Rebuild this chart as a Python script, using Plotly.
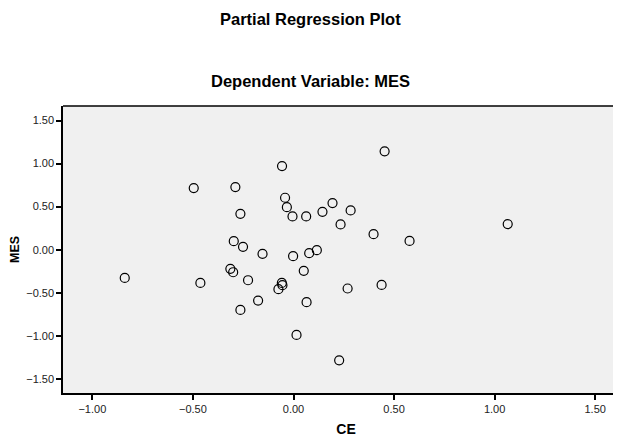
import plotly.graph_objects as go

ce = [-0.057, -0.496, -0.289, -0.042, -0.033, -0.264, -0.005, 0.063, 0.144, -0.297,
      -0.251, -0.154, -0.002, 0.078, 0.116, -0.314, -0.300, -0.839, 0.051, -0.226,
      -0.463, -0.058, -0.055, -0.075, -0.176, 0.065, -0.264, 0.015, 0.453, 0.194,
      0.284, 0.234, 1.065, 0.398, 0.577, 0.269, 0.438, 0.227]
mes = [0.971, 0.715, 0.727, 0.603, 0.494, 0.416, 0.386, 0.386, 0.440, 0.099,
       0.033, -0.049, -0.076, -0.041, -0.006, -0.223, -0.262, -0.328, -0.246, -0.355,
       -0.386, -0.386, -0.413, -0.459, -0.591, -0.610, -0.700, -0.990, 1.142, 0.541,
       0.456, 0.293, 0.297, 0.180, 0.102, -0.451, -0.409, -1.285]
x_ticks = [-1.0, -0.5, 0.0, 0.5, 1.0, 1.5]
y_ticks = [-1.5, -1.0, -0.5, 0.0, 0.5, 1.0, 1.5]

fig = go.Figure(go.Scatter(
    x=ce, y=mes, mode="markers",
    marker=dict(symbol="circle-open", size=9, color="black", line=dict(width=1.2)),
    showlegend=False, hoverinfo="x+y"))

axis_common = dict(showgrid=False, zeroline=False, showline=True, linecolor="black",
                   linewidth=1.5, ticks="outside", ticklen=5, tickwidth=1.5,
                   tickcolor="black", tickformat=".2f", automargin=False,
                   tickfont=dict(family="Liberation Sans, Arial", size=11, color="#222"))

# The page body has an 8px default margin, so the figure is drawn offset by 8px.
fig.update_layout(
    width=621, height=444,
    margin=dict(l=55, r=0, t=98, b=59),
    paper_bgcolor="white", plot_bgcolor="#f0f0f0",
    font=dict(family="Liberation Sans, Arial", color="black"),
    xaxis=dict(range=[-1.146, 1.668], tickvals=x_ticks, mirror=False,
               title=dict(text="<b>CE</b>", font=dict(size=14), standoff=10), **axis_common),
    yaxis=dict(range=[-1.665, 1.669], tickvals=y_ticks, mirror=False,
               title=dict(text="<b>MES</b>", font=dict(size=12.5), standoff=9), **axis_common),
    shapes=[dict(type="line", xref="paper", yref="paper", x0=0, x1=1, y0=1, y1=1,
                 line=dict(color="black", width=1.5))],
    annotations=[
        dict(text="<b>Partial Regression Plot</b>", xref="paper", yref="paper",
             x=0.437, y=1.341, showarrow=False, font=dict(size=16.5), xanchor="center", yanchor="top"),
        dict(text="<b>Dependent Variable: MES</b>", xref="paper", yref="paper",
             x=0.437, y=1.087, showarrow=False, font=dict(size=16.5), xanchor="center", yanchor="middle"),
    ],
)

fig.write_html("out.html")
